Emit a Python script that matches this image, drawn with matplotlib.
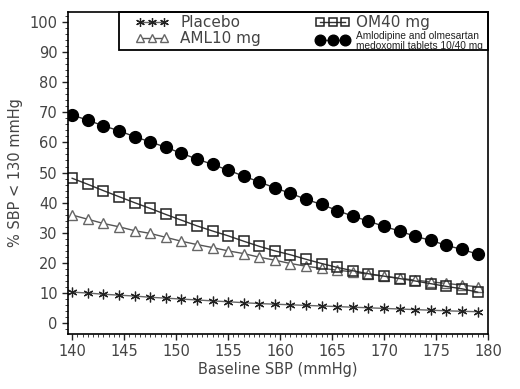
import numpy as np
import matplotlib
matplotlib.use("Agg")
import matplotlib.pyplot as plt
from matplotlib.ticker import MultipleLocator
from matplotlib.patches import Rectangle

# baseline SBP grid (27 points, 140 .. 179)
baseline = [140 + 1.5 * i for i in range(27)]

placebo = [10.3, 10.0, 9.6, 9.3, 9.0, 8.6, 8.3, 8.0, 7.7, 7.4, 7.1, 6.8, 6.5, 6.3,
           6.1, 5.9, 5.7, 5.5, 5.3, 5.1, 4.9, 4.7, 4.5, 4.3, 4.1, 3.95, 3.8]
aml10 = [35.9, 34.5, 33.1, 32.0, 30.7, 29.8, 28.5, 27.2, 26.1, 25.1, 24.0, 23.1, 21.9,
         20.9, 19.8, 18.9, 18.2, 17.6, 17.0, 16.2, 15.6, 14.9, 14.3, 13.7, 13.2, 12.6, 12.1]
om40 = [48.1, 46.1, 44.0, 42.0, 40.0, 38.1, 36.1, 34.2, 32.3, 30.6, 29.0, 27.2, 25.5,
        24.0, 22.7, 21.2, 19.8, 18.5, 17.4, 16.4, 15.6, 14.8, 14.0, 13.1, 12.2, 11.4, 10.3]
combo = [69.1, 67.4, 65.5, 63.9, 61.9, 60.2, 58.4, 56.4, 54.5, 52.7, 50.8, 48.8, 46.9,
         44.9, 43.1, 41.1, 39.4, 37.4, 35.5, 33.9, 32.1, 30.6, 28.8, 27.5, 25.8, 24.5, 22.9]

labels = ["Placebo", "AML10 mg", "OM40 mg",
          "Amlodipine and olmesartan\nmedoxomil tablets 10/40 mg"]

txt = "#444444"
plt.rcParams["font.family"] = ["DejaVu Sans"]

fig = plt.figure(figsize=(5.2, 3.89), dpi=100)
ax = fig.add_axes([68 / 520, 1 - 334 / 389, 420 / 520, 322 / 389])

star = (6, 2, 0)
l1, = ax.plot(baseline, placebo, color="#666666", lw=1, marker=star, ms=7,
              mec="#222222", mew=0.9, label=labels[0])
l2, = ax.plot(baseline, aml10, color="#555555", lw=1, marker="^", ms=6.5,
              mfc="white", mec="#666666", mew=1, label=labels[1])
l3, = ax.plot(baseline, om40, color="#333333", lw=1, marker="s", ms=7,
              mfc="none", mec="#222222", mew=1.1, label=labels[2])
l4, = ax.plot(baseline, combo, color="#333333", lw=1, marker="o", ms=8.5,
              mfc="black", mec="black", label=labels[3])

ax.set_xlim(139.6, 180)
ax.set_ylim(-3.6, 103.3)
ax.xaxis.set_major_locator(MultipleLocator(5))
ax.xaxis.set_minor_locator(MultipleLocator(0.5))
ax.yaxis.set_major_locator(MultipleLocator(10))
ax.yaxis.set_minor_locator(MultipleLocator(2))
ax.tick_params(which="major", length=4, width=1, colors="#222222",
               labelcolor=txt, labelsize=10.5)
ax.tick_params(which="minor", length=2, width=0.6, colors="#222222")
for s in ax.spines.values():
    s.set_linewidth(1.2)

ax.set_xlabel("Baseline SBP (mmHg)", color=txt, fontsize=10.5, labelpad=2)
ax.set_ylabel("% SBP < 130 mmHg", color=txt, fontsize=10.5, labelpad=5)

# legend frame
ax.add_patch(Rectangle((51 / 420, (334 - 50) / 322), 369 / 420, 38 / 322,
                       transform=ax.transAxes, fill=False, ec="black", lw=1.3,
                       clip_on=False, zorder=5))

kw = dict(loc="upper left", numpoints=3, frameon=False, borderpad=0,
          borderaxespad=0, handlelength=2.2, labelspacing=0.05, markerscale=0.9)
leg1 = ax.legend([l1, l2], labels[:2], bbox_to_anchor=(0.1595, 0.99),
                 fontsize=11, handletextpad=0.75, **kw)
for t in leg1.get_texts():
    t.set_color(txt)
ax.add_artist(leg1)

leg2 = ax.legend([l3, l4], labels[2:], bbox_to_anchor=(0.59, 0.99),
                 fontsize=11, handletextpad=0.4, **kw)
texts = leg2.get_texts()
texts[0].set_color(txt)
texts[1].set_fontsize(7.3)
texts[1].set_family(["Liberation Sans", "DejaVu Sans"])
texts[1].set_color("#222222")
texts[1].set_linespacing(1.05)

fig.savefig("out.png", dpi=100)
